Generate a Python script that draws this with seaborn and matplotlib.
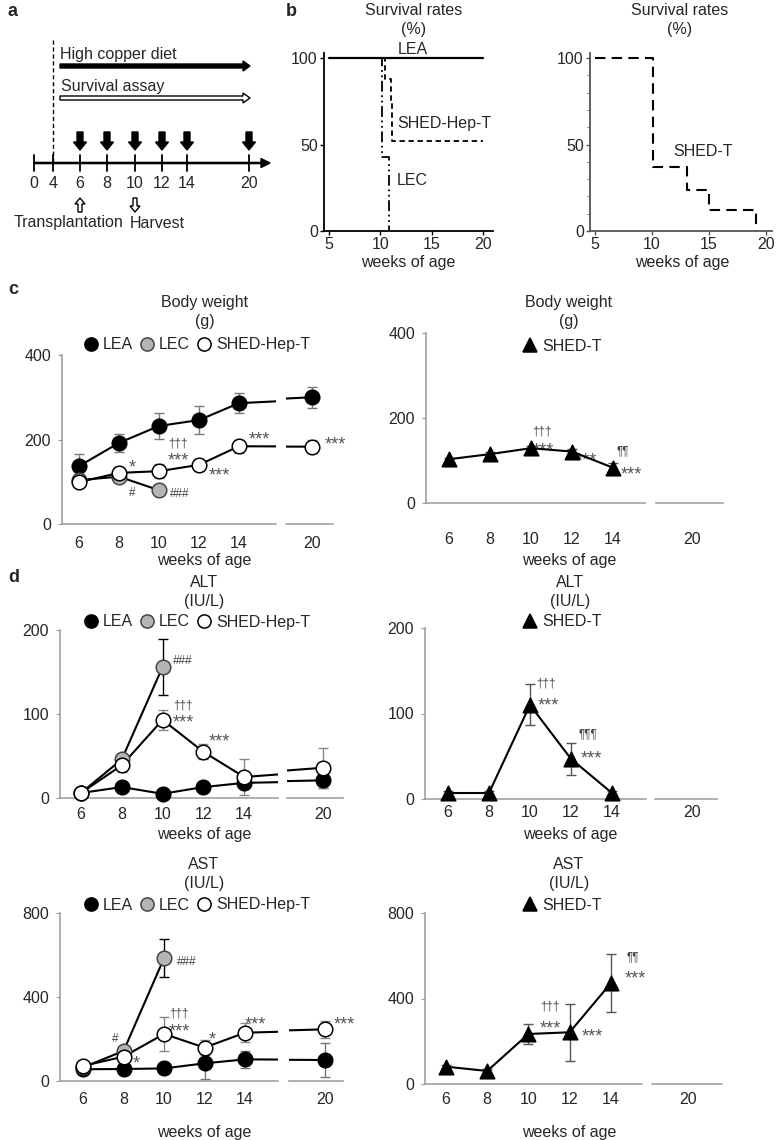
import matplotlib
matplotlib.use("Agg")
import matplotlib.pyplot as plt
from matplotlib.patches import FancyArrow
from matplotlib.lines import Line2D
import seaborn as sns

# ---------------- data ----------------
# panel a: timeline (weeks of age)
timeline_weeks = [0, 4, 6, 8, 10, 12, 14, 20]
sampling_weeks = [6, 8, 10, 12, 14, 20]

# panel b: survival rates (%) as step functions
lea_surv_t = [5, 20]
lea_surv = [100, 100]
hep_surv_t = [5, 10.5, 11.0, 11.15, 20]
hep_surv = [100, 88, 75, 52, 52]
lec_surv_t = [5, 10.2, 10.8]
lec_surv = [100, 43, 0]
shedt_surv_t = [5, 10.1, 13.1, 15.0, 19.1]
shedt_surv = [100, 37, 24, 12, 0]

# panels c/d: weeks
weeks = [6, 8, 10, 12, 14, 20]
weeks_lec = [6, 8, 10]
weeks_shedt = [6, 8, 10, 12, 14]

# body weight (g)
bw_lea = [137, 192, 232, 246, 286, 300]
bw_lea_sd = [28, 22, 30, 33, 24, 25]
bw_lec = [104, 112, 80]
bw_lec_sd = [8, 8, 6]
bw_hep = [99, 121, 125, 140, 184, 183]
bw_hep_sd = [8, 15, 17, 15, 15, 15]
bw_shedt = [103, 115, 129, 121, 83]
bw_shedt_sd = [4, 5, 6, 6, 10]

# ALT (IU/L)
alt_lea = [6, 13, 5, 13, 18, 21]
alt_lea_sd = [2, 4, 2, 3, 3, 9]
alt_lec = [6, 46, 156]
alt_lec_sd = [2, 6, 33]
alt_hep = [6, 39, 93, 55, 25, 36]
alt_hep_sd = [2, 8, 12, 9, 21, 24]
alt_shedt = [7, 7, 110, 47, 7]
alt_shedt_sd = [2, 2, 24, 19, 2]

# AST (IU/L)
ast_lea = [56, 57, 60, 84, 103, 100]
ast_lea_sd = [8, 8, 10, 76, 42, 83]
ast_lec = [65, 143, 585]
ast_lec_sd = [10, 15, 92]
ast_hep = [72, 116, 224, 159, 230, 246]
ast_hep_sd = [10, 15, 80, 37, 45, 42]
ast_shedt = [81, 61, 234, 242, 472]
ast_shedt_sd = [10, 8, 46, 133, 136]

# ---------------- style ----------------
sns.set_style("white")
plt.rcParams['font.family'] = ['Liberation Sans', 'DejaVu Sans']
FS = 11.5
W, H = 776, 1140
fig = plt.figure(figsize=(W / 100, H / 100), dpi=100)


def px_axes(l, t, r, b):
    return fig.add_axes([l / W, 1 - b / H, (r - l) / W, (b - t) / H])


def ftext(x, y, s, **kw):
    kw.setdefault('fontsize', FS)
    kw.setdefault('ha', 'center')
    kw.setdefault('va', 'center')
    fig.text(x / W, 1 - y / H, s, **kw)


STYLES = {
    'LEA': dict(marker='o', fc='black', ec='black', err='#777777'),
    'LEC': dict(marker='o', fc='#b5b5b5', ec='#444444', err='black'),
    'SHED-Hep-T': dict(marker='o', fc='white', ec='black', err='#888888'),
    'SHED-T': dict(marker='^', fc='black', ec='black', err='#555555'),
}

# ---------------- panel a ----------------
ax_a = px_axes(0, 0, 300, 235)
ax_a.set_xlim(0, 300)
ax_a.set_ylim(235, 0)
ax_a.axis('off')
tl_x = dict(zip(timeline_weeks, [34, 53, 80, 107, 135, 162, 187, 249]))
tl_y = 163
ax_a.add_patch(FancyArrow(34, tl_y, 236, 0, width=1.2, head_width=9, head_length=9,
                          length_includes_head=True, color='black'))
for w in timeline_weeks:
    ax_a.plot([tl_x[w], tl_x[w]], [155, 171], color='black', lw=1.3)
    ax_a.text(tl_x[w], 183, str(w), ha='center', va='center', fontsize=FS)
for w in sampling_weeks:
    ax_a.add_patch(FancyArrow(tl_x[w], 132, 0, 18, width=6, head_width=13, head_length=8,
                              length_includes_head=True, color='black'))
ax_a.plot([53, 53], [40, tl_y], color='black', lw=1, ls=(0, (3, 2)))
ax_a.text(60, 55, 'High copper diet', ha='left', va='center', fontsize=FS)
ax_a.add_patch(FancyArrow(60, 66, 190, 0, width=4, head_width=10, head_length=7,
                          length_includes_head=True, color='black'))
ax_a.text(61, 86, 'Survival assay', ha='left', va='center', fontsize=FS)
ax_a.add_patch(FancyArrow(60, 98, 190, 0, width=4, head_width=10, head_length=7,
                          length_includes_head=True, fc='white', ec='black', lw=1))
ax_a.add_patch(FancyArrow(tl_x[6], 212, 0, -14, width=4, head_width=10, head_length=6,
                          length_includes_head=True, fc='white', ec='black', lw=1))
ax_a.add_patch(FancyArrow(tl_x[10], 198, 0, 14, width=4, head_width=10, head_length=6,
                          length_includes_head=True, fc='white', ec='black', lw=1))
ax_a.text(69, 223, 'Transplantation', ha='center', va='center', fontsize=FS)
ax_a.text(157, 223, 'Harvest', ha='center', va='center', fontsize=FS)

# ---------------- panel b ----------------
def survival_axes(box, xlim, spine_color):
    ax = px_axes(*box)
    ax.set_xlim(*xlim)
    ax.set_ylim(0, 103)
    sns.despine(ax=ax)
    for sp in ('left', 'bottom'):
        ax.spines[sp].set_color(spine_color)
        ax.spines[sp].set_linewidth(1.3)
    ax.set_xticks([5, 10, 15, 20])
    ax.set_yticks([0, 50, 100])
    ax.tick_params(length=3, width=1, color=spine_color, pad=1.5, labelsize=FS,
                   direction='out', left=True, bottom=True)
    return ax


axb1 = survival_axes((324, 53, 493, 231), (4.5, 21), 'black')
sns.lineplot(x=lea_surv_t, y=lea_surv, ax=axb1, color='black', lw=1.6, drawstyle='steps-post')
sns.lineplot(x=hep_surv_t, y=hep_surv, ax=axb1, color='black', lw=1.3,
             drawstyle='steps-post', linestyle=(0, (3, 2)))
sns.lineplot(x=lec_surv_t, y=lec_surv, ax=axb1, color='black', lw=1.3,
             drawstyle='steps-post', linestyle=(0, (6, 2, 1, 2, 1, 2)))
axb1.set_xlabel('')
axb1.set_ylabel('')
axb1.text(11.7, 100.5, 'LEA', ha='left', va='bottom', fontsize=FS)
axb1.text(11.7, 62, 'SHED-Hep-T', ha='left', va='center', fontsize=FS)
axb1.text(11.6, 29, 'LEC', ha='left', va='center', fontsize=FS)

axb2 = survival_axes((590, 53, 772, 231), (4.6, 20.5), '#555555')
axb2.set_yticks(range(0, 101, 10), minor=True)
axb2.tick_params(which='minor', axis='y', length=2, color='#555555', left=True)
sns.lineplot(x=shedt_surv_t, y=shedt_surv, ax=axb2, color='black', lw=1.5,
             drawstyle='steps-post', linestyle=(0, (5, 3)))
axb2.set_xlabel('')
axb2.set_ylabel('')
axb2.text(11.9, 46, 'SHED-T', ha='left', va='center', fontsize=FS)

for cx in (414, 680):
    ftext(cx, 20, 'Survival rates\n(%)', linespacing=1.3)
ftext(408, 263, 'weeks of age')
ftext(682, 263, 'weeks of age')


# ---------------- panels c / d ----------------
def line_panel(main_box, break_box, xlim_main, xlim_break, ymax, series, notes, pad):
    ax = px_axes(*main_box)
    axb = px_axes(*break_box)
    for a, xl in ((ax, xlim_main), (axb, xlim_break)):
        for name, x, y, e in series:
            st = STYLES[name]
            a.errorbar(x, y, yerr=e, fmt='none', ecolor=st['err'], elinewidth=1,
                       capsize=3.5, capthick=1, zorder=2)
            sns.lineplot(x=x, y=y, ax=a, color='black', lw=1.5, zorder=3)
            keep = [i for i, v in enumerate(x) if xl[0] <= v <= xl[1]]
            if keep:
                sns.scatterplot(x=[x[i] for i in keep], y=[y[i] for i in keep], ax=a,
                                marker=st['marker'], s=110, color=st['fc'],
                                edgecolor=st['ec'], linewidth=1.1, zorder=4, clip_on=False)
        a.set_xlim(*xl)
        a.set_ylim(0, ymax)
        a.set_xlabel('')
        a.set_ylabel('')
        sns.despine(ax=a)
        a.spines['bottom'].set_color('#999999')
        a.spines['bottom'].set_linewidth(1.1)
        a.tick_params(axis='x', length=0, pad=pad, labelsize=FS)
    ax.set_xticks([6, 8, 10, 12, 14])
    axb.set_xticks([20])
    ax.set_yticks([0, ymax // 2, ymax])
    ax.spines['left'].set_color('#999999')
    ax.spines['left'].set_linewidth(1.1)
    ax.tick_params(axis='y', length=3, color='#999999', pad=5, labelsize=FS, left=True)
    axb.spines['left'].set_visible(False)
    axb.set_yticks([])
    for w, v, txt, where in notes:
        target = ax if where == 'm' else axb
        if txt[0] == '*':
            # asterisks sit high in the em box: nudge them down
            target.annotate(txt, (w, v), xytext=(0, -3.5), textcoords='offset points',
                            ha='center', va='center', fontsize=13, color='#555555',
                            zorder=1, annotation_clip=False)
        else:
            target.text(w, v, txt, ha='center', va='center', fontsize=8.5,
                        color='#444444', zorder=1)
    return ax, axb


def legend_row(cx, cy, names):
    handles = [Line2D([], [], ls='none', marker=STYLES[n]['marker'], markersize=9.5,
                      markerfacecolor=STYLES[n]['fc'], markeredgecolor=STYLES[n]['ec'],
                      markeredgewidth=1.1) for n in names]
    fig.legend(handles, names, loc='center', bbox_to_anchor=(cx / W, 1 - cy / H),
               ncol=len(names), frameon=False, fontsize=FS, handlelength=0.9,
               handletextpad=0.3, columnspacing=0.45, borderpad=0)


# c: body weight
line_panel((62, 355, 276, 524), (286, 355, 333, 524), (5.15, 15.85), (18.7, 21.05), 400,
           [('LEA', weeks, bw_lea, bw_lea_sd),
            ('LEC', weeks_lec, bw_lec, bw_lec_sd),
            ('SHED-Hep-T', weeks, bw_hep, bw_hep_sd)],
           [(8.68, 144, '*', 'm'), (8.68, 73, '#', 'm'), (10.97, 191, '†††', 'm'),
            (10.97, 160, '***', 'm'), (11.05, 70, '###', 'm'), (13.0, 126, '***', 'm'),
            (15.0, 210, '***', 'm'), (21.15, 199, '***', 'b')], 8.5)
ftext(205, 312, 'Body weight\n(g)', linespacing=1.3)
legend_row(197, 345, ['LEA', 'LEC', 'SHED-Hep-T'])
ftext(204, 560, 'weeks of age')

line_panel((426, 333, 645, 503), (656, 333, 723, 503), (4.88, 15.56), (18.24, 21.5), 400,
           [('SHED-T', weeks_shedt, bw_shedt, bw_shedt_sd)],
           [(10.52, 168, '†††', 'm'), (10.6, 134, '***', 'm'), (12.7, 111, '***', 'm'),
            (14.5, 121, '¶¶', 'm'), (14.9, 77, '***', 'm')], 21)
ftext(569, 312, 'Body weight\n(g)', linespacing=1.3)
legend_row(562, 346, ['SHED-T'])
ftext(569, 560, 'weeks of age')

# d: ALT
ftext(204, 592, 'ALT\n(IU/L)', linespacing=1.3)
legend_row(197, 622, ['LEA', 'LEC', 'SHED-Hep-T'])
line_panel((60, 630, 278, 798), (287, 630, 343, 798), (4.97, 15.66), (18.24, 20.98), 200,
           [('LEA', weeks, alt_lea, alt_lea_sd),
            ('LEC', weeks_lec, alt_lec, alt_lec_sd),
            ('SHED-Hep-T', weeks, alt_hep, alt_hep_sd)],
           [(10.98, 163, '###', 'm'), (11.0, 110.5, '†††', 'm'), (11.0, 95, '***', 'm'),
            (12.8, 72, '***', 'm')], 6.5)
ftext(204, 835, 'weeks of age')

ftext(570, 592, 'ALT\n(IU/L)', linespacing=1.3)
legend_row(562, 622, ['SHED-T'])
line_panel((425, 628, 646, 799), (655, 628, 717, 799), (4.88, 15.66), (18.24, 21.22), 200,
           [('SHED-T', weeks_shedt, alt_shedt, alt_shedt_sd)],
           [(10.8, 135.5, '†††', 'm'), (10.88, 115, '***', 'm'), (12.83, 75.8, '¶¶¶', 'm'),
            (13.0, 53, '***', 'm')], 4.5)
ftext(570, 835, 'weeks of age')

# d: AST
ftext(204, 874, 'AST\n(IU/L)', linespacing=1.3)
legend_row(197, 905, ['LEA', 'LEC', 'SHED-Hep-T'])
line_panel((60, 913, 278, 1081), (289, 913, 343, 1081), (4.86, 15.63), (18.22, 20.9), 800,
           [('LEA', weeks, ast_lea, ast_lea_sd),
            ('LEC', weeks_lec, ast_lec, ast_lec_sd),
            ('SHED-Hep-T', weeks, ast_hep, ast_hep_sd)],
           [(7.58, 199, '#', 'm'), (8.62, 104, '*', 'm'), (10.74, 320, '†††', 'm'),
            (10.74, 258, '***', 'm'), (12.36, 218, '*', 'm'), (14.5, 290, '***', 'm'),
            (20.99, 290, '***', 'b'), (11.1, 568, '###', 'm')], 8)
ftext(204, 1132, 'weeks of age')

ftext(569, 874, 'AST\n(IU/L)', linespacing=1.3)
legend_row(562, 905, ['SHED-T'])
line_panel((425, 913, 642, 1084), (652, 913, 722, 1084), (4.98, 15.51), (18.25, 21.65), 800,
           [('SHED-T', weeks_shedt, ast_shedt, ast_shedt_sd)],
           [(15.05, 594, '¶¶', 'm'), (15.2, 513, '***', 'm'), (11.05, 362, '†††', 'm'),
            (11.08, 282, '***', 'm'), (13.12, 244, '***', 'm')], 6)
ftext(569, 1132, 'weeks of age')

# panel letters
for x, y, s in ((8, 12, 'a'), (286, 12, 'b'), (8, 290, 'c'), (8, 578, 'd')):
    ftext(x, y, s, fontsize=13, fontweight='bold', ha='left')

fig.savefig('out.png', dpi=100)
